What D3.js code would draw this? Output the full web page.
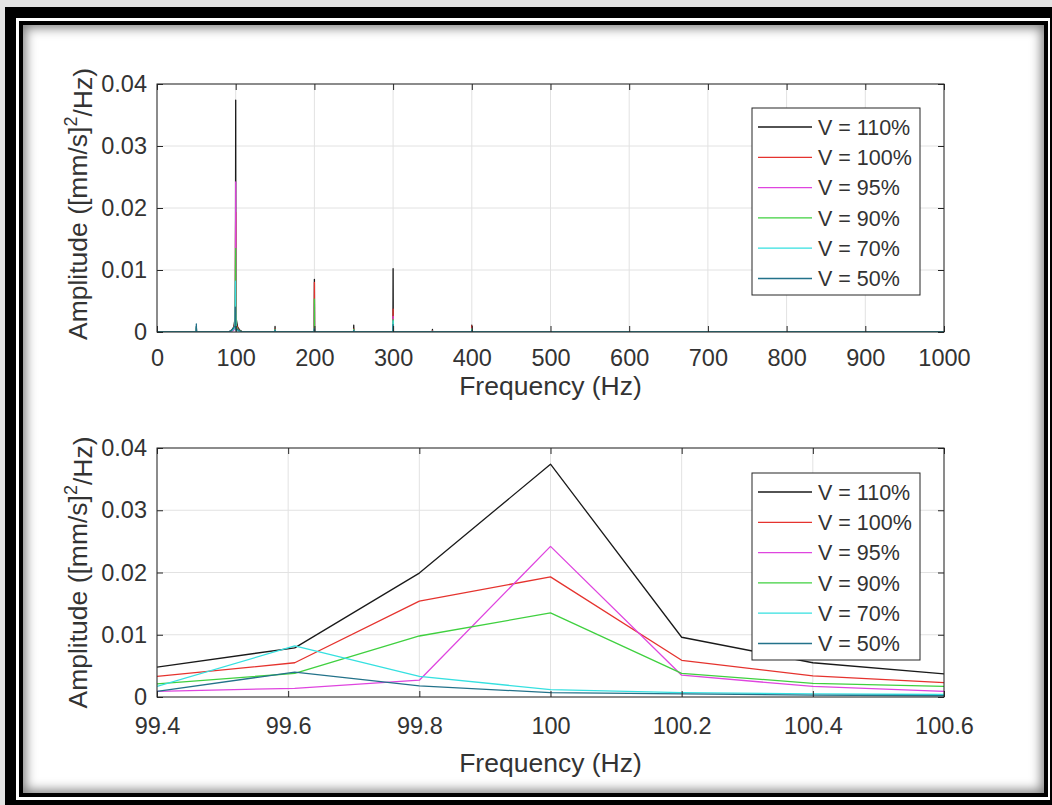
<!DOCTYPE html>
<html>
<head>
<meta charset="utf-8">
<script src="https://cdn.jsdelivr.net/npm/d3@7"></script>
<style>
  html, body { margin: 0; padding: 0; width: 1052px; height: 805px; overflow: hidden; background: #e3e3e3; position: relative; }
  .frame-outer { position: absolute; left: 5px; top: 7px; width: 1047px; height: 798px; background: #000; }
  .frame-gap { position: absolute; left: 16px; top: 18px; width: 1034px; height: 782px; background: #fff; }
  .frame-inner { position: absolute; left: 19px; top: 21px; width: 1029px; height: 776px; box-sizing: border-box;
                 border: 4px solid #000; background: #fff; box-shadow: inset 0 0 11px 3px rgba(0,0,0,0.5); }
  svg { position: absolute; left: 0; top: 0; }
</style>
</head>
<body>
<div class="frame-outer"></div>
<div class="frame-gap"></div>
<div class="frame-inner"></div>
<svg id="chart" width="1052" height="805"></svg>
<script>
// Series names (legend order = drawing order)
const seriesLabels = ["V = 110%", "V = 100%", "V = 95%", "V = 90%", "V = 70%", "V = 50%"];
const seriesColors = ["#1a1a1a", "#e5332e", "#df45df", "#3fd03f", "#35e0e0", "#23728a"];

// Fine spectrum around the 100 Hz line (Hz, amplitude)
const zoomFreq = [99.4, 99.61, 99.8, 100, 100.2, 100.4, 100.6];
const zoom110 = [0.0048, 0.0079, 0.0199, 0.0374, 0.0096, 0.0055, 0.0037];
const zoom100 = [0.0033, 0.0055, 0.0154, 0.0193, 0.0059, 0.0034, 0.0023];
const zoom95  = [0.0009, 0.0014, 0.0027, 0.0242, 0.0035, 0.0017, 0.0009];
const zoom90  = [0.0021, 0.0038, 0.0098, 0.0135, 0.0038, 0.0022, 0.0017];
const zoom70  = [0.0017, 0.0082, 0.0033, 0.0012, 0.0007, 0.0005, 0.0004];
const zoom50  = [0.0009, 0.0040, 0.0018, 0.0007, 0.0005, 0.0003, 0.0002];

// Remaining spectrum 0-1000 Hz: harmonics and the skirt around 100 Hz
const wideFreq = [0, 49.8, 50, 50.2, 91, 95, 97.5, 99.2, 100.8, 102.5, 105, 109,
                  149.8, 150, 150.2, 199.8, 200, 200.2, 249.8, 250, 250.2,
                  299.8, 300, 300.2, 349.8, 350, 350.2, 399.8, 400, 400.2, 1000];
const wide110 = [0, 0, 0.0009, 0, 0, 0.0003, 0.0008, 0.0022, 0.0020, 0.0008, 0.0003, 0,
                 0, 0.0009, 0, 0, 0.0085, 0, 0, 0.0011, 0,
                 0, 0.0102, 0, 0, 0.0004, 0, 0, 0.0011, 0, 0];
const wide100 = [0, 0, 0.0007, 0, 0, 0.0002, 0.0006, 0.0016, 0.0012, 0.0006, 0.0002, 0,
                 0, 0.0005, 0, 0, 0.0080, 0, 0, 0.0005, 0,
                 0, 0.0037, 0, 0, 0.0002, 0, 0, 0.0010, 0, 0];
const wide95  = [0, 0, 0.0005, 0, 0, 0.0001, 0.0003, 0.0006, 0.0005, 0.0003, 0.0001, 0,
                 0, 0.0003, 0, 0, 0.0045, 0, 0, 0.0003, 0,
                 0, 0.0025, 0, 0, 0.0001, 0, 0, 0.0006, 0, 0];
const wide90  = [0, 0, 0.0006, 0, 0, 0.0002, 0.0005, 0.0012, 0.0009, 0.0004, 0.0002, 0,
                 0, 0.0004, 0, 0, 0.0053, 0, 0, 0.0004, 0,
                 0, 0.0020, 0, 0, 0.0001, 0, 0, 0.0005, 0, 0];
const wide70  = [0, 0, 0.0008, 0, 0, 0.0002, 0.0005, 0.0010, 0.0003, 0.0002, 0.0001, 0,
                 0, 0.0003, 0, 0, 0.0006, 0, 0, 0.0003, 0,
                 0, 0.0018, 0, 0, 0.0001, 0, 0, 0.0003, 0, 0];
const wide50  = [0, 0, 0.0013, 0, 0, 0.0003, 0.0007, 0.0010, 0.0004, 0.0004, 0.0002, 0,
                 0, 0.0003, 0, 0, 0.0005, 0, 0, 0.0002, 0,
                 0, 0.0012, 0, 0, 0.0001, 0, 0, 0.0002, 0, 0];

// Axis ticks
const wideTicks = [0, 100, 200, 300, 400, 500, 600, 700, 800, 900, 1000];
const zoomTicks = [99.4, 99.6, 99.8, 100, 100.2, 100.4, 100.6];
const ampTicks  = [0, 0.01, 0.02, 0.03, 0.04];

const FONT = "'Liberation Sans', Arial, Helvetica, sans-serif";
const AXIS_COLOR = "#262626";
const TEXT_COLOR = "#333";

const zoomSets = [zoom110, zoom100, zoom95, zoom90, zoom70, zoom50];
const wideSets = [wide110, wide100, wide95, wide90, wide70, wide50];

const toPoints = (freqs, vals) => freqs.map((f, i) => ({ f: f, a: vals[i] }));
const spectrum = wideSets.map((w, s) =>
  toPoints(wideFreq, w).concat(toPoints(zoomFreq, zoomSets[s])).sort((p, q) => p.f - q.f));
const detail = zoomSets.map(z => toPoints(zoomFreq, z));

const svg = d3.select("#chart");

function drawPanel(o) {
  const x = d3.scaleLinear().domain(o.xDomain).range([o.left, o.right]);
  const y = d3.scaleLinear().domain([0, 0.04]).range([o.bottom, o.top]);
  const g = svg.append("g");

  // grid
  g.append("g").selectAll("line").data(o.xTicks).join("line")
    .attr("x1", d => x(d)).attr("x2", d => x(d))
    .attr("y1", o.top).attr("y2", o.bottom)
    .attr("stroke", "#e2e2e2").attr("stroke-width", 1);
  g.append("g").selectAll("line").data(ampTicks).join("line")
    .attr("y1", d => y(d)).attr("y2", d => y(d))
    .attr("x1", o.left).attr("x2", o.right)
    .attr("stroke", "#e2e2e2").attr("stroke-width", 1);

  // series
  const clipId = "clip-" + o.id;
  g.append("clipPath").attr("id", clipId).append("rect")
    .attr("x", o.left).attr("y", o.top)
    .attr("width", o.right - o.left).attr("height", o.bottom - o.top);
  const line = d3.line().x(d => x(d.f)).y(d => y(d.a));
  g.append("g").attr("clip-path", `url(#${clipId})`)
    .selectAll("path").data(o.data).join("path")
    .attr("d", line)
    .attr("fill", "none")
    .attr("stroke", (d, i) => seriesColors[i])
    .attr("stroke-width", o.lineWidth)
    .attr("stroke-linejoin", "round");

  // axes with inward ticks on all four sides
  const styleAxis = sel => {
    sel.select(".domain").remove();
    sel.selectAll(".tick line").attr("stroke", AXIS_COLOR);
    sel.selectAll(".tick text").attr("fill", TEXT_COLOR)
      .style("font-family", FONT).style("font-size", "23.5px");
  };
  g.append("g").attr("transform", `translate(0,${o.bottom})`)
    .call(d3.axisBottom(x).tickValues(o.xTicks).tickFormat(o.xFormat)
      .tickSizeInner(-6).tickSizeOuter(0).tickPadding(o.xPad))
    .call(styleAxis);
  g.append("g").attr("transform", `translate(0,${o.top})`)
    .call(d3.axisTop(x).tickValues(o.xTicks).tickFormat("")
      .tickSizeInner(-6).tickSizeOuter(0))
    .call(styleAxis);
  g.append("g").attr("transform", `translate(${o.left},0)`)
    .call(d3.axisLeft(y).tickValues(ampTicks)
      .tickFormat(d => d === 0 ? "0" : d3.format(".2f")(d))
      .tickSizeInner(-6).tickSizeOuter(0).tickPadding(10))
    .call(styleAxis);
  g.append("g").attr("transform", `translate(${o.right},0)`)
    .call(d3.axisRight(y).tickValues(ampTicks).tickFormat("")
      .tickSizeInner(-6).tickSizeOuter(0))
    .call(styleAxis);

  // axes box
  g.append("rect")
    .attr("x", o.left).attr("y", o.top)
    .attr("width", o.right - o.left).attr("height", o.bottom - o.top)
    .attr("fill", "none").attr("stroke", AXIS_COLOR).attr("stroke-width", 1);

  // axis titles
  g.append("text")
    .attr("x", (o.left + o.right) / 2).attr("y", o.xLabelY)
    .attr("text-anchor", "middle")
    .attr("fill", TEXT_COLOR)
    .style("font-family", FONT).style("font-size", "26.5px")
    .text("Frequency (Hz)");

  const yl = g.append("text")
    .attr("transform", `translate(87,${(o.top + o.bottom) / 2 - o.yLabelShift}) rotate(-90)`)
    .attr("text-anchor", "middle")
    .attr("fill", TEXT_COLOR)
    .style("font-family", FONT).style("font-size", "26.5px");
  yl.append("tspan").text("Amplitude ([mm/s]");
  yl.append("tspan").attr("dy", "-0.55em").style("font-size", "18px").text("2");
  yl.append("tspan").attr("dy", "0.55em").text("/Hz)");

  // legend
  const lg = g.append("g").attr("transform", `translate(752,${o.legendTop})`);
  lg.append("rect").attr("width", 168).attr("height", 187)
    .attr("fill", "#fff").attr("stroke", AXIS_COLOR).attr("stroke-width", 1);
  const rows = lg.selectAll("g.row").data(seriesLabels).join("g")
    .attr("class", "row")
    .attr("transform", (d, i) => `translate(0,${19 + i * 30.3})`);
  rows.append("line")
    .attr("x1", 6).attr("x2", 60).attr("y1", 0).attr("y2", 0)
    .attr("stroke", (d, i) => seriesColors[i]).attr("stroke-width", 1.3);
  rows.append("text")
    .attr("x", 66).attr("y", 0).attr("dy", "0.36em")
    .attr("fill", TEXT_COLOR)
    .style("font-family", FONT).style("font-size", "21.5px")
    .text(d => d);
}

drawPanel({
  id: "wide", left: 157, right: 944, top: 84, bottom: 332,
  xDomain: [0, 1000], xTicks: wideTicks, xFormat: d3.format("d"),
  data: spectrum, lineWidth: 1.3, xPad: 17, xLabelY: 395, legendTop: 108, yLabelShift: 4
});

drawPanel({
  id: "zoom", left: 157, right: 944, top: 448, bottom: 697,
  xDomain: [99.4, 100.6], xTicks: zoomTicks, xFormat: d => String(+d.toFixed(1)),
  data: detail, lineWidth: 1.3, xPad: 20, xLabelY: 772, legendTop: 473, yLabelShift: 0
});
</script>
</body>
</html>
